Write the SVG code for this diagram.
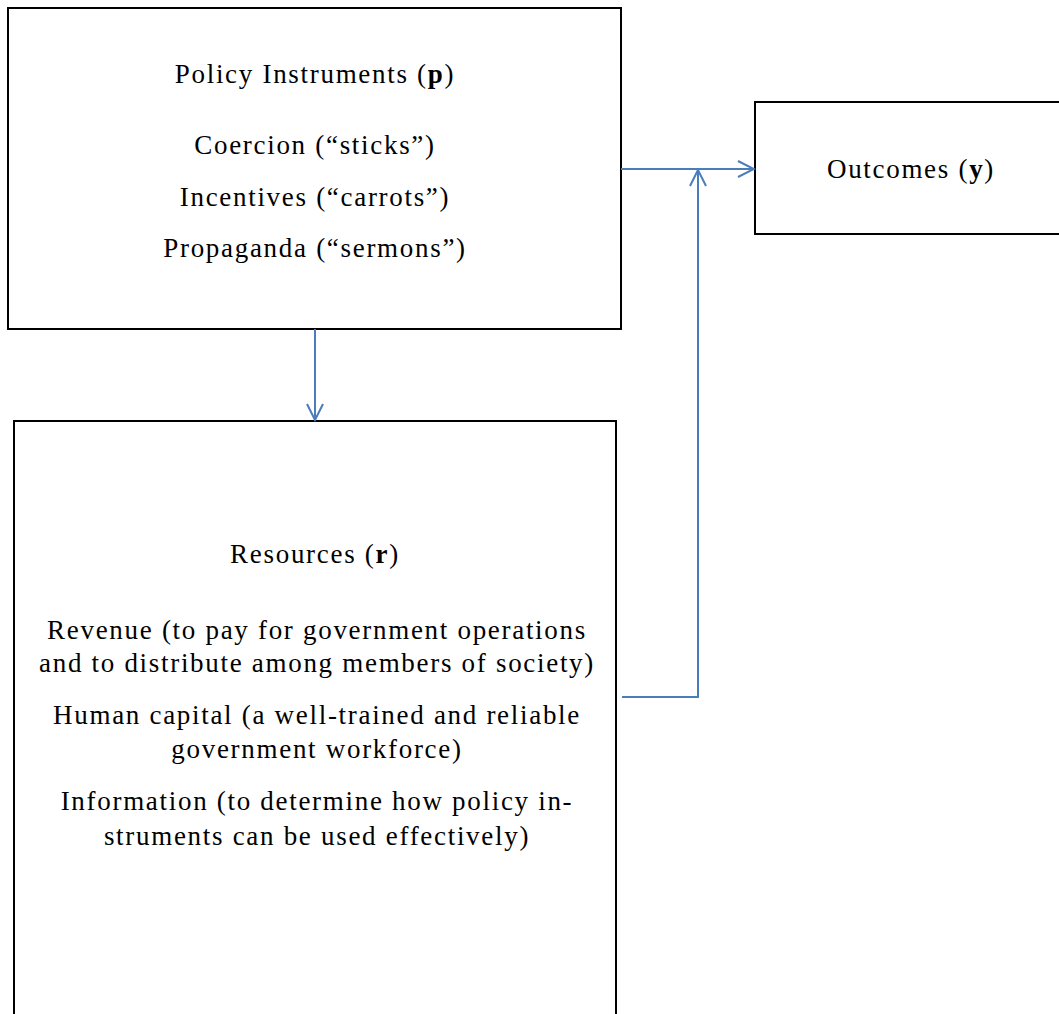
<svg xmlns="http://www.w3.org/2000/svg" width="1059" height="1014" viewBox="0 0 1059 1014">
<style>
.box{fill:#fff;stroke:#000;stroke-width:2}
.t{font-family:"Liberation Serif","Times New Roman",serif;font-size:27px;letter-spacing:1.7px;fill:#000;text-anchor:middle}
.b{font-weight:bold}
.c{fill:none;stroke:#4a7ebb;stroke-width:2}
</style>
<defs>
<marker id="arr" viewBox="0 0 20 20" refX="18" refY="10" markerWidth="20" markerHeight="20" markerUnits="userSpaceOnUse" orient="auto">
<path d="M2,2 L18,10 L2,18" fill="none" stroke="#4a7ebb" stroke-width="2"/>
</marker>
</defs>
<rect width="1059" height="1014" fill="#fff"/>
<g id="policy">
<rect class="box" x="8" y="8" width="613" height="321"/>
<text class="t" x="315" y="83">Policy Instruments (<tspan class="b">p</tspan>)</text>
<text class="t" x="315" y="154">Coercion (“sticks”)</text>
<text class="t" x="315" y="206">Incentives (“carrots”)</text>
<text class="t" x="315" y="257">Propaganda (“sermons”)</text>
</g>
<g id="outcomes">
<rect class="box" x="755" y="102" width="320" height="132"/>
<text class="t" x="911" y="178">Outcomes (<tspan class="b">y</tspan>)</text>
</g>
<g id="resources">
<rect class="box" x="14" y="421" width="602" height="620"/>
<text class="t" x="315" y="563">Resources (<tspan class="b">r</tspan>)</text>
<text class="t" x="317" y="639">Revenue (to pay for government operations</text>
<text class="t" x="317" y="672">and to distribute among members of society)</text>
<text class="t" x="317" y="724">Human capital (a well-trained and reliable</text>
<text class="t" x="317" y="758">government workforce)</text>
<text class="t" x="317" y="810">Information (to determine how policy in-</text>
<text class="t" x="317" y="845">struments can be used effectively)</text>
</g>
<g id="connectors">
<line class="c" x1="621" y1="169" x2="754" y2="169" marker-end="url(#arr)"/>
<line class="c" x1="315" y1="329" x2="315" y2="420" marker-end="url(#arr)"/>
<polyline class="c" points="622,697 698,697 698,170" marker-end="url(#arr)"/>
</g>
</svg>
